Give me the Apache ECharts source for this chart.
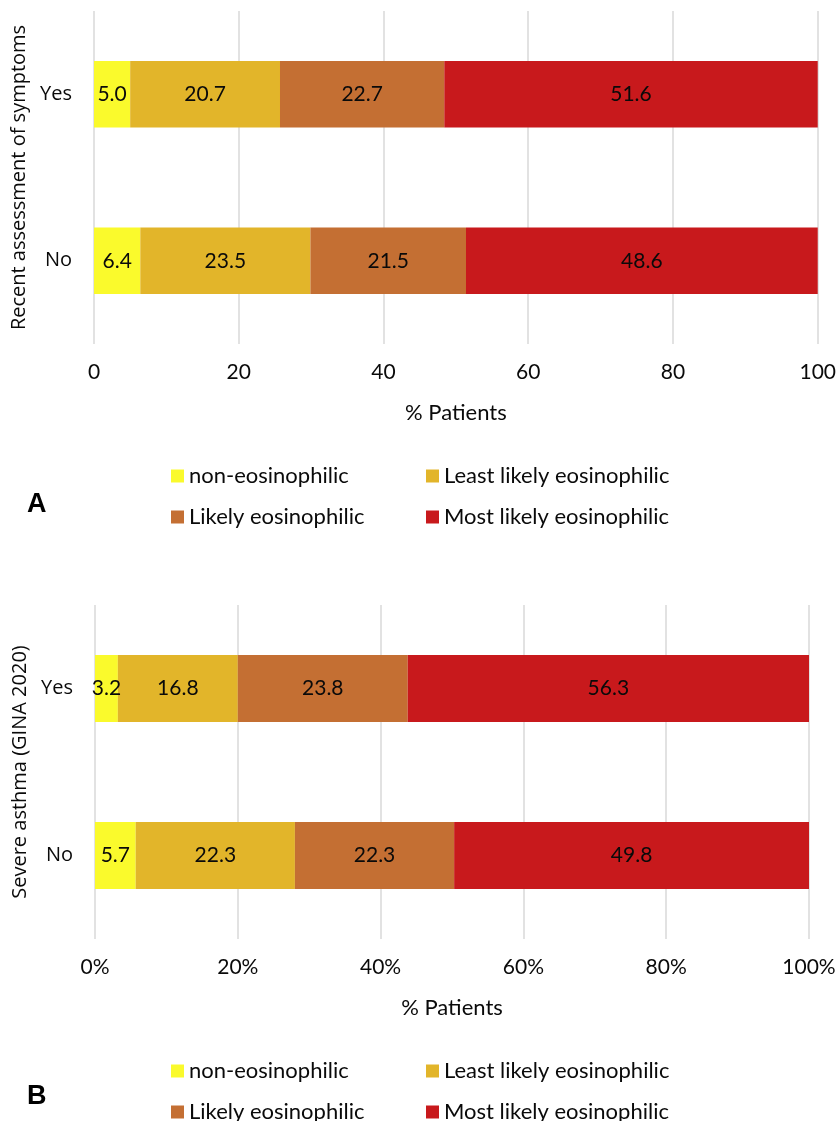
<!DOCTYPE html>
<html>
<head>
<meta charset="utf-8">
<script src="https://cdn.jsdelivr.net/npm/echarts@6/dist/echarts.min.js"></script>
<style>
html,body{margin:0;padding:0;background:#fff;}
#chart{width:839px;height:1121px;}
</style>
</head>
<body>
<div id="chart"></div>
<script>
// ---- data ----
const categories = ['No', 'Yes'];               // bottom to top
const seriesNames = ['non-eosinophilic', 'Least likely eosinophilic', 'Likely eosinophilic', 'Most likely eosinophilic'];
// Panel A: Recent assessment of symptoms (No, Yes)
const aNonEos = [6.4, 5.0];
const aLeast  = [23.5, 20.7];
const aLikely = [21.5, 22.7];
const aMost   = [48.6, 51.6];
// Panel B: Severe asthma (GINA 2020) (No, Yes)
const bNonEos = [5.7, 3.2];
const bLeast  = [22.3, 16.8];
const bLikely = [22.3, 23.8];
const bMost   = [49.8, 56.3];
const xTicks = [0, 20, 40, 60, 80, 100];

const colors = ['#FAFA2C', '#E2B52A', '#C46F33', '#C8191C'];
const labelFont = 'Lato';
const txt = '#0a0a0a';

function barSeries(name, data, idx, color) {
  return {
    name: name, type: 'bar', stack: 'p' + idx,
    xAxisIndex: idx, yAxisIndex: idx,
    data: data, barWidth: '40%',
    itemStyle: { color: color },
    label: {
      show: true, position: 'inside', color: txt,
      fontFamily: labelFont, fontSize: 21,
      formatter: p => p.value.toFixed(1)
    },
    emphasis: { disabled: true }
  };
}

const aSets = [aNonEos, aLeast, aLikely, aMost];
const bSets = [bNonEos, bLeast, bLikely, bMost];
const series = [];
seriesNames.forEach((n, i) => series.push(barSeries(n, aSets[i], 0, colors[i])));
seriesNames.forEach((n, i) => series.push(barSeries(n, bSets[i], 1, colors[i])));

function xAxis(idx, fmt) {
  return {
    type: 'value', gridIndex: idx, min: xTicks[0], max: xTicks[xTicks.length - 1], interval: xTicks[1] - xTicks[0],
    axisLine: { show: false }, axisTick: { show: false },
    splitLine: { show: true, lineStyle: { color: '#D9D9D9', width: 1.5 } },
    axisLabel: { color: txt, fontFamily: labelFont, fontSize: 21, margin: 18, formatter: fmt },
    name: '% Patients', nameLocation: 'middle', nameGap: 58,
    nameTextStyle: { color: txt, fontFamily: labelFont, fontSize: 22 }
  };
}
function yAxis(idx, title) {
  return {
    type: 'category', gridIndex: idx, data: categories,
    axisLine: { show: false }, axisTick: { show: false },
    axisLabel: { color: txt, fontFamily: 'Open Sans', fontSize: 20, margin: 22 },
    name: title, nameLocation: 'middle', nameRotate: 90, nameGap: 64,
    nameTextStyle: { color: txt, fontFamily: 'Open Sans', fontSize: 20 }
  };
}

function legendItem(name, left, top) {
  return {
    data: [name], left: left, top: top, orient: 'horizontal',
    itemWidth: 13, itemHeight: 13, itemGap: 0,
    icon: 'rect', selectedMode: false,
    textStyle: { color: txt, fontFamily: labelFont, fontSize: 22, padding: [0, 0, 0, 0] }
  };
}
const legends = [];
[[0, 460], [1, 1055]].forEach(([k, top]) => {
  legends.push(legendItem(seriesNames[0], 166, top));
  legends.push(legendItem(seriesNames[1], 421, top));
  legends.push(legendItem(seriesNames[2], 166, top + 41));
  legends.push(legendItem(seriesNames[3], 421, top + 41));
});

const chart = echarts.init(document.getElementById('chart'), null, { renderer: 'canvas' });
chart.setOption({
  animation: false,
  backgroundColor: '#fff',
  title: [
    { text: 'A', left: 22, top: 486, textStyle: { fontFamily: 'Liberation Sans', fontWeight: 'bold', fontSize: 27, color: '#000' } },
    { text: 'B', left: 22, top: 1078, textStyle: { fontFamily: 'Liberation Sans', fontWeight: 'bold', fontSize: 27, color: '#000' } }
  ],
  grid: [
    { left: 94, right: 20.5, top: 11, height: 333, containLabel: false },
    { left: 95, right: 30, top: 605, height: 334, containLabel: false }
  ],
  xAxis: [xAxis(0, '{value}'), xAxis(1, '{value}%')],
  yAxis: [yAxis(0, 'Recent assessment of symptoms'), yAxis(1, 'Severe asthma (GINA 2020)')],
  legend: legends,
  series: series
});
</script>
</body>
</html>
